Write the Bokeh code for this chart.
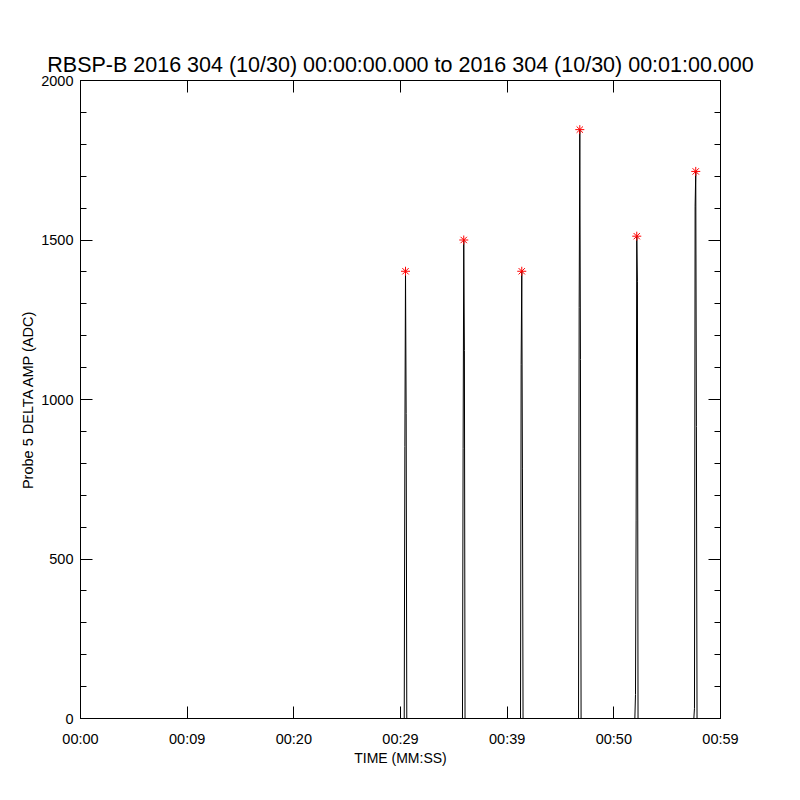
from bokeh.plotting import figure
from bokeh.models import Range1d, LinearAxis, FixedTicker
from bokeh.embed import file_html
from bokeh.resources import INLINE

# ---- data ----
title_text = "RBSP-B 2016 304 (10/30) 00:00:00.000 to 2016 304 (10/30) 00:01:00.000"
x_tick_values = [0, 10, 20, 30, 40, 50, 60]
x_tick_labels = ["00:00", "00:09", "00:20", "00:29", "00:39", "00:50", "00:59"]
y_tick_values = [0, 500, 1000, 1500, 2000]
y_tick_labels = ["0", "500", "1000", "1500", "2000"]
y_minor_values = [100, 200, 300, 400, 600, 700, 800, 900, 1100, 1200, 1300, 1400,
                  1600, 1700, 1800, 1900]

spike_time = [30.47, 35.93, 41.37, 46.81, 52.15, 57.68]   # seconds
pre_amp = [0, 0, 0, 0, 75, 32]
rise_amp = [853, 847, 1110, 1289, 622, 1606]
peak_amp = [1402, 1500, 1402, 1846, 1512, 1715]
fall_amp = [956, 1154, 785, 1125, 1369, 915]
sample_dt = 0.06
t_start, t_end = 0.0, 60.0

# build waveform samples from the arrays above
xs = [t_start]
ys = [0]
for t, a0, a1, a2, a3 in zip(spike_time, pre_amp, rise_amp, peak_amp, fall_amp):
    xs += [t - 3 * sample_dt, t - 2 * sample_dt, t - sample_dt, t, t + sample_dt, t + 2 * sample_dt]
    ys += [0, a0, a1, a2, a3, 0]
xs.append(t_end)
ys.append(0)

FONT = "Liberation Sans"

p = figure(width=784, height=784, output_backend="svg", toolbar_location=None,
           x_range=Range1d(0, 60), y_range=Range1d(0, 2000),
           min_border_left=80, min_border_right=64, min_border_top=80, min_border_bottom=66,
           background_fill_color="white", border_fill_color="white")
p.grid.visible = False
p.outline_line_color = "black"
p.outline_line_width = 1

p.title.text = title_text
p.title.align = "center"
p.title.text_font = FONT
p.title.text_font_size = "21.5px"
p.title.text_font_style = "normal"
p.title.text_color = "black"
p.title.standoff = 7

def style_axis(ax, ticks, minor, labels, show_labels):
    ax.ticker = FixedTicker(ticks=ticks, minor_ticks=minor)
    if show_labels:
        ax.major_label_overrides = {v: l for v, l in zip(ticks, labels)}
    else:
        ax.major_label_overrides = {v: "" for v in ticks}
    ax.axis_line_color = "black"
    ax.major_tick_line_color = "black"
    ax.minor_tick_line_color = "black" if minor else None
    ax.major_tick_in = 12
    ax.major_tick_out = 0
    ax.minor_tick_in = 6
    ax.minor_tick_out = 0
    ax.major_label_text_font = FONT
    ax.major_label_text_font_size = "14.5px"
    ax.major_label_text_color = "black"
    ax.axis_label_text_font = FONT
    ax.axis_label_text_font_size = "14px"
    ax.axis_label_text_font_style = "normal"
    ax.axis_label_text_color = "black"

xb = p.xaxis[0]
style_axis(xb, x_tick_values, [], x_tick_labels, True)
xb.major_label_standoff = 12
xb.axis_label = "TIME (MM:SS)"
xb.axis_label_standoff = 0

yl = p.yaxis[0]
style_axis(yl, y_tick_values, y_minor_values, y_tick_labels, True)
yl.major_label_standoff = 7
yl.axis_label = "Probe 5 DELTA AMP (ADC)"
yl.axis_label_text_font_size = "14.5px"
yl.axis_label_standoff = 2

xt = LinearAxis()
style_axis(xt, x_tick_values, [], x_tick_labels, False)
xt.major_label_standoff = 0
p.add_layout(xt, "above")

yr = LinearAxis()
style_axis(yr, y_tick_values, y_minor_values, y_tick_labels, False)
yr.major_label_standoff = 0
p.add_layout(yr, "right")

p.line(xs, ys, line_color="black", line_width=1)
p.scatter(spike_time, peak_amp, marker="asterisk", size=9, line_color="red", line_width=1)

open("out.html", "w").write(file_html(p, INLINE))
